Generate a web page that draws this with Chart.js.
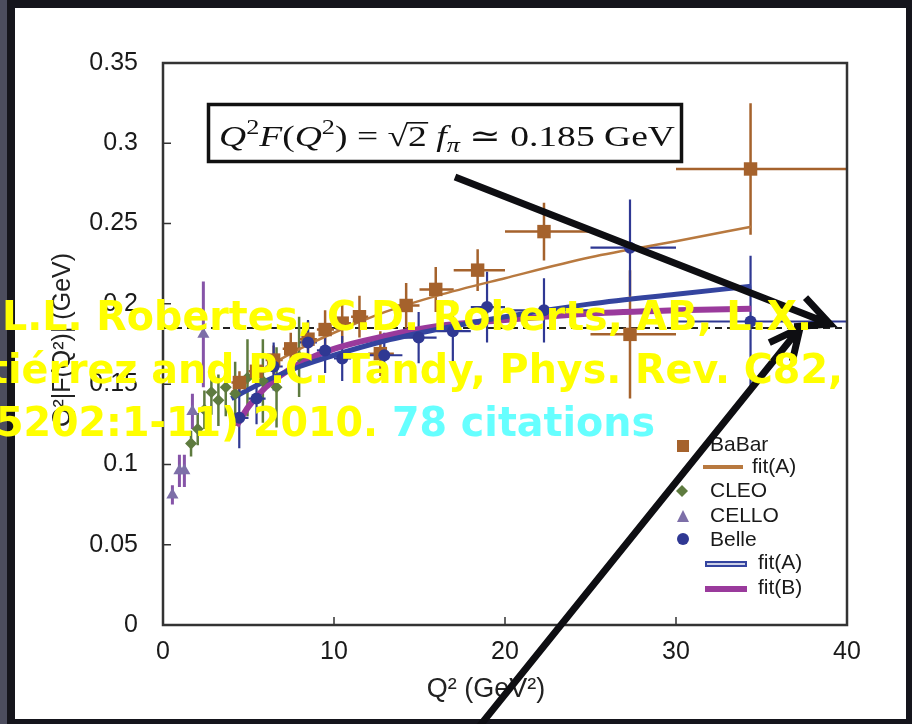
<!DOCTYPE html>
<html>
<head>
<meta charset="utf-8">
<title>pi0 transition form factor</title>
<style>
  html, body { margin: 0; padding: 0; background: #15151c; }
  #wrap { width: 912px; height: 724px; }
</style>
<script src="https://cdn.jsdelivr.net/npm/chart.js@4.4.1/dist/chart.umd.min.js"></script>
</head>
<body>
<div id="wrap"><canvas id="tff" width="912" height="724"></canvas></div>
<script>
// ---- data ----
const xTickLabels = ['0', '10', '20', '30', '40'];
const yTickLabels = ['0', '0.05', '0.1', '0.15', '0.2', '0.25', '0.3', '0.35'];

// BaBar
const babarQ2  = [4.47, 5.47, 6.47, 7.47, 8.48, 9.48, 10.48, 11.49, 12.71, 14.22, 15.95, 18.40, 22.28, 27.31, 34.36];
const babarQ2F = [0.151, 0.158, 0.165, 0.172, 0.178, 0.184, 0.188, 0.192, 0.169, 0.199, 0.209, 0.221, 0.245, 0.181, 0.284];
const babarErr = [0.007, 0.008, 0.009, 0.010, 0.011, 0.012, 0.012, 0.013, 0.014, 0.014, 0.014, 0.013, 0.018, 0.040, 0.041];
const babarLo  = [4, 5, 6, 7, 8, 9, 10, 11, 12, 13.5, 15, 17, 20, 25, 30];
const babarHi  = [5, 6, 7, 8, 9, 10, 11, 12, 13.5, 15, 17, 20, 25, 30, 40];

// Belle
const belleQ2  = [4.46, 5.47, 6.47, 8.48, 9.48, 10.48, 12.94, 14.95, 16.95, 18.95, 22.28, 27.31, 34.36];
const belleQ2F = [0.129, 0.141, 0.161, 0.176, 0.171, 0.166, 0.168, 0.179, 0.183, 0.198, 0.196, 0.235, 0.189];
const belleErr = [0.019, 0.016, 0.015, 0.014, 0.014, 0.014, 0.014, 0.016, 0.019, 0.022, 0.020, 0.030, 0.041];
const belleLo  = [4, 5, 6, 8, 9, 10, 12, 14, 16, 18, 20, 25, 30];
const belleHi  = [5, 6, 7, 9, 10, 11, 14, 16, 18, 20, 25, 30, 40];

// CLEO
const cleoQ2  = [1.64, 2.03, 2.42, 2.83, 3.24, 3.67, 4.22, 4.94, 5.84, 6.64, 7.96];
const cleoQ2F = [0.113, 0.122, 0.134, 0.145, 0.140, 0.148, 0.144, 0.154, 0.152, 0.148, 0.167];
const cleoErr = [0.008, 0.010, 0.012, 0.014, 0.016, 0.018, 0.020, 0.024, 0.026, 0.025, 0.025];

// CELLO
const celloQ2  = [0.55, 0.96, 1.25, 1.72, 2.36];
const celloQ2F = [0.081, 0.096, 0.096, 0.133, 0.181];
const celloErr = [0.006, 0.010, 0.010, 0.011, 0.033];

// fits
const fitBabarQ2 = [4, 6, 8, 10, 13, 16, 20, 25, 30, 34.4];
const fitBabarA  = [0.145, 0.160, 0.172, 0.182, 0.195, 0.205, 0.216, 0.229, 0.239, 0.248];
const fitBelleQ2 = [4, 6, 8, 10, 13, 16, 20, 25, 30, 34.4];
const fitBelleA  = [0.141, 0.152, 0.161, 0.168, 0.177, 0.184, 0.192, 0.200, 0.206, 0.211];
const fitBQ2     = [4.3, 5, 6, 8, 10, 13, 16, 20, 25, 30, 34.4];
const fitBelleB  = [0.124, 0.136, 0.148, 0.163, 0.172, 0.180, 0.186, 0.190, 0.194, 0.196, 0.197];

const piLimit = 0.185;   // sqrt(2) f_pi

const citeLine1 = 'L.L. Robertes, C.D. Roberts, AB, L.X.';
const citeLine2 = 'Guti\u00e9rrez and P.C. Tandy, Phys. Rev. C82,';
const citeLine3 = '065202:1-11) 2010. ';
const citeCount = '78 citations';

// ---- helpers ----
const pts = (xs, ys) => xs.map((x, i) => ({ x: x, y: ys[i] }));

const BROWN = '#a5622c';
const BLUE = '#2f3893';
const GREEN = '#5e7b3f';
const LAV = '#7d6fa8';
const PURPLE = '#9a3a9c';
const SANS = '"Liberation Sans", Arial, sans-serif';

const errorSets = [
  { x: celloQ2, y: celloQ2F, e: celloErr, color: '#8654a8', w: 3 },
  { x: cleoQ2, y: cleoQ2F, e: cleoErr, color: GREEN, w: 2.5 },
  { x: babarQ2, y: babarQ2F, e: babarErr, lo: babarLo, hi: babarHi, color: BROWN, w: 2.5 },
  { x: belleQ2, y: belleQ2F, e: belleErr, lo: belleLo, hi: belleHi, color: BLUE, w: 2.2 }
];

const slidePlugin = {
  id: 'slide',
  beforeDraw(chart) {
    const c = chart.ctx;
    c.save();
    c.fillStyle = '#15151c';
    c.fillRect(0, 0, 912, 724);
    c.fillStyle = '#4c4d5e';
    c.fillRect(0, 0, 7, 724);
    c.fillStyle = '#ffffff';
    c.fillRect(15, 8, 891, 711);
    c.restore();
  },
  beforeDatasetsDraw(chart) {
    const c = chart.ctx;
    const xs = chart.scales.x, ys = chart.scales.y;
    const a = chart.chartArea;
    c.save();
    // dashed limit
    c.strokeStyle = '#222';
    c.lineWidth = 2;
    c.setLineDash([7, 5]);
    c.beginPath();
    c.moveTo(a.left, ys.getPixelForValue(piLimit));
    c.lineTo(a.right, ys.getPixelForValue(piLimit));
    c.stroke();
    c.setLineDash([]);
    // error bars
    errorSets.forEach(s => {
      c.strokeStyle = s.color;
      c.lineWidth = s.w;
      c.beginPath();
      s.x.forEach((q, i) => {
        const px = xs.getPixelForValue(q);
        const py = ys.getPixelForValue(s.y[i]);
        c.moveTo(px, ys.getPixelForValue(s.y[i] - s.e[i]));
        c.lineTo(px, ys.getPixelForValue(s.y[i] + s.e[i]));
        if (s.lo) {
          c.moveTo(xs.getPixelForValue(s.lo[i]), py);
          c.lineTo(xs.getPixelForValue(s.hi[i]), py);
        }
      });
      c.stroke();
    });
    c.restore();
  },
  afterDatasetsDraw(chart) {
    const c = chart.ctx;
    const a = chart.chartArea;
    const xs = chart.scales.x, ys = chart.scales.y;
    c.save();
    // frame
    c.strokeStyle = '#333';
    c.lineWidth = 2.5;
    c.strokeRect(a.left, a.top, a.right - a.left, a.bottom - a.top);
    // inside ticks
    c.lineWidth = 1.5;
    c.beginPath();
    ys.ticks.forEach(t => {
      const py = ys.getPixelForValue(t.value);
      if (py > a.top + 2 && py < a.bottom - 2) { c.moveTo(a.left, py); c.lineTo(a.left + 8, py); }
    });
    xs.ticks.forEach(t => {
      const px = xs.getPixelForValue(t.value);
      if (px > a.left + 2 && px < a.right - 2) { c.moveTo(px, a.bottom); c.lineTo(px, a.bottom - 8); }
    });
    c.stroke();

    // axis titles
    c.fillStyle = '#222';
    c.textAlign = 'center';
    c.textBaseline = 'middle';
    c.font = '27px ' + SANS;
    c.fillText('Q\u00b2 (GeV\u00b2)', 486, 690);
    c.font = '25px ' + SANS;
    c.save();
    c.translate(63, 340);
    c.rotate(-Math.PI / 2);
    c.fillText('Q\u00b2|F(Q\u00b2)| (GeV)', 0, 0);
    c.restore();

    // legend
    c.textAlign = 'left';
    c.font = '21px ' + SANS;
    c.fillStyle = BROWN;
    c.fillRect(677, 440, 12, 12);
    c.strokeStyle = '#b8793f';
    c.lineWidth = 4;
    c.beginPath(); c.moveTo(703, 467); c.lineTo(743, 467); c.stroke();
    c.fillStyle = GREEN;
    c.beginPath(); c.moveTo(682, 485); c.lineTo(688, 491); c.lineTo(682, 497); c.lineTo(676, 491); c.closePath(); c.fill();
    c.fillStyle = LAV;
    c.beginPath(); c.moveTo(683, 510); c.lineTo(689, 522); c.lineTo(677, 522); c.closePath(); c.fill();
    c.fillStyle = BLUE;
    c.beginPath(); c.arc(683, 539, 6, 0, Math.PI * 2); c.fill();
    c.strokeStyle = '#34449f'; c.lineWidth = 6;
    c.beginPath(); c.moveTo(705, 564); c.lineTo(747, 564); c.stroke();
    c.strokeStyle = '#ffffff'; c.lineWidth = 1.6;
    c.beginPath(); c.moveTo(707, 564); c.lineTo(745, 564); c.stroke();
    c.strokeStyle = PURPLE; c.lineWidth = 6;
    c.beginPath(); c.moveTo(705, 589); c.lineTo(747, 589); c.stroke();
    c.fillStyle = '#1a1a1a';
    c.fillText('BaBar', 710, 445);
    c.fillText('fit(A)', 752, 467);
    c.fillText('CLEO', 710, 491);
    c.fillText('CELLO', 710, 516);
    c.fillText('Belle', 710, 540);
    c.fillText('fit(A)', 758, 563);
    c.fillText('fit(B)', 758, 588);
    c.restore();
  },
  afterDraw(chart) {
    const c = chart.ctx;
    c.save();
    // formula box
    c.strokeStyle = '#111';
    c.lineWidth = 3.5;
    c.strokeRect(208.5, 104.5, 473, 57);
    c.fillStyle = '#111';
    drawFormula(c);

    // arrows
    c.strokeStyle = '#0e0e12';
    c.lineWidth = 7;
    arrow(c, 455, 177, 830, 324, 36, 0.45);
    arrow(c, 478, 728, 800, 328, 34, 0.45);

    drawCitation(c);
    c.restore();
  }
};

function arrow(c, x0, y0, x1, y1, head, spread) {
  const a = Math.atan2(y1 - y0, x1 - x0);
  c.beginPath();
  c.moveTo(x0, y0);
  c.lineTo(x1, y1);
  c.moveTo(x1 - head * Math.cos(a - spread), y1 - head * Math.sin(a - spread));
  c.lineTo(x1, y1);
  c.lineTo(x1 - head * Math.cos(a + spread), y1 - head * Math.sin(a + spread));
  c.stroke();
}

function drawFormula(c) {
  const serif = '"Liberation Serif", "DejaVu Serif", serif';
  const S = 30;
  const parts = [
    { t: 'Q', it: true }, { t: '2', sup: true }, { t: 'F', it: true }, { t: '(' },
    { t: 'Q', it: true }, { t: '2', sup: true }, { t: ')' }, { t: ' = ' },
    { t: '\u221a' }, { t: '2', bar: true }, { t: ' ' }, { t: 'f', it: true },
    { t: '\u03c0', it: true, sub: true }, { t: ' \u2243 ' }, { t: '0.185 GeV' }
  ];
  const fontOf = p => (p.it ? 'italic ' : '') + ((p.sup || p.sub) ? 21 : S) + 'px ' + serif;
  let total = 0;
  parts.forEach(p => { c.font = fontOf(p); p.w = c.measureText(p.t).width; total += p.w; });
  const sx = 456 / total;
  c.save();
  c.translate(219, 146);
  c.scale(sx, 1);
  c.textAlign = 'left';
  c.textBaseline = 'alphabetic';
  let x = 0;
  parts.forEach(p => {
    c.font = fontOf(p);
    const dy = p.sup ? -12 : p.sub ? 6 : 0;
    c.fillText(p.t, x, dy);
    if (p.bar) c.fillRect(x - 1, -24, p.w + 2, 1.6);
    x += p.w;
  });
  c.restore();
}

function drawCitation(c) {
  c.save();
  c.font = 'bold 41px "DejaVu Sans", sans-serif';
  c.textAlign = 'left';
  c.textBaseline = 'alphabetic';
  const sx = 810 / c.measureText(citeLine1).width;
  const put = (txt, x, y, col) => {
    c.save();
    c.translate(x, y);
    c.scale(sx, 1);
    c.fillStyle = col;
    c.fillText(txt, 0, 0);
    c.restore();
  };
  put(citeLine1, 2, 330, '#ffff00');
  const w2 = c.measureText(citeLine2).width * sx;
  put(citeLine2, 843 - w2, 383, '#ffff00');
  const wc = c.measureText(citeCount).width * sx;
  const wy = c.measureText(citeLine3).width * sx;
  put(citeLine3, 655 - wc - wy, 436, '#ffff00');
  put(citeCount, 655 - wc, 436, '#66ffff');
  c.restore();
}

const ctx = document.getElementById('tff').getContext('2d');

new Chart(ctx, {
  type: 'scatter',
  data: {
    datasets: [
      { label: 'BaBar', data: pts(babarQ2, babarQ2F), pointStyle: 'rect', pointRadius: 9.5,
        backgroundColor: BROWN, borderWidth: 0, order: 2 },
      { label: 'CLEO', data: pts(cleoQ2, cleoQ2F), pointStyle: 'rectRot', pointRadius: 6,
        backgroundColor: GREEN, borderWidth: 0, order: 3 },
      { label: 'CELLO', data: pts(celloQ2, celloQ2F), pointStyle: 'triangle', pointRadius: 7,
        backgroundColor: LAV, borderWidth: 0, order: 4 },
      { label: 'Belle', data: pts(belleQ2, belleQ2F), pointStyle: 'circle', pointRadius: 6,
        backgroundColor: BLUE, borderWidth: 0, order: 1 },
      { label: 'fit(A) BaBar', type: 'line', data: pts(fitBabarQ2, fitBabarA), showLine: true,
        borderColor: '#b8793f', borderWidth: 2.5, pointRadius: 0, cubicInterpolationMode: 'monotone', order: 10 },
      { label: 'fit(B)', type: 'line', data: pts(fitBQ2, fitBelleB), showLine: true,
        borderColor: PURPLE, borderWidth: 6, pointRadius: 0, cubicInterpolationMode: 'monotone', order: 12 },
      { label: 'fit(A) Belle', type: 'line', data: pts(fitBelleQ2, fitBelleA), showLine: true,
        borderColor: '#34449f', borderWidth: 5, pointRadius: 0, cubicInterpolationMode: 'monotone', order: 11 }
    ]
  },
  options: {
    responsive: false,
    animation: false,
    devicePixelRatio: 1,
    layout: { padding: { top: 63, right: 65, left: 0, bottom: 0 } },
    plugins: {
      legend: { display: false },
      tooltip: { enabled: false }
    },
    scales: {
      x: {
        type: 'linear', min: 0, max: 40,
        afterFit: s => { s.height = 99; },
        grid: { display: true, drawOnChartArea: false, drawTicks: false },
        border: { display: false },
        ticks: {
          stepSize: 10, padding: 12, color: '#1a1a1a',
          font: { family: SANS, size: 25 },
          callback: v => xTickLabels[Math.round(v / 10)]
        }
      },
      y: {
        type: 'linear', min: 0, max: 0.35,
        afterFit: s => { s.width = 163; },
        grid: { display: true, drawOnChartArea: false, drawTicks: false },
        border: { display: false },
        ticks: {
          stepSize: 0.05, padding: 25, color: '#1a1a1a',
          font: { family: SANS, size: 25 },
          callback: v => yTickLabels[Math.round(v / 0.05)]
        }
      }
    }
  },
  plugins: [slidePlugin]
});
</script>
</body>
</html>
